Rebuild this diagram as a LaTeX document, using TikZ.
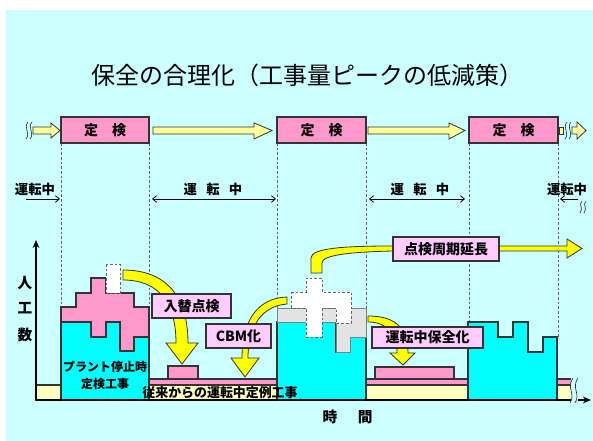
\documentclass[tikz,border=0pt]{standalone}
\usepackage{fontspec}
\setmainfont{Noto Sans CJK JP}
\usetikzlibrary{arrows.meta}
\definecolor{bgc}{HTML}{CCFFFF}
\definecolor{cyanc}{HTML}{00FFFF}
\definecolor{pinkc}{HTML}{FF99CC}
\definecolor{lpink}{HTML}{FFCCFF}
\definecolor{yelc}{HTML}{FFFF00}
\definecolor{paley}{HTML}{FFFF99}
\definecolor{bandy}{HTML}{FFFFBF}
\definecolor{grayc}{HTML}{E3E3E3}
\definecolor{edge}{HTML}{333333}
\begin{document}
\begin{tikzpicture}[x=0.75pt,y=-0.75pt,
  outl/.style={draw=edge, line width=0.8pt},
  kbox/.style={draw=edge, fill=pinkc, line width=0.8pt, inner sep=0pt, font=\bfseries\fontsize{10.5}{12}\selectfont},
  lbox/.style={draw=edge, fill=lpink, line width=0.8pt, inner sep=0pt, font=\bfseries\fontsize{10.5}{12}\selectfont},
  lab/.style={font=\bfseries\fontsize{10}{12}\selectfont, inner sep=0pt},
  guide/.style={draw=black!60, dash pattern=on 2pt off 1.5pt, line width=0.6pt},
  yarrow/.style={fill=yelc, draw=edge, line width=0.6pt},
  parrow/.style={fill=paley, draw=edge, line width=0.6pt},
  wave/.style={draw=edge, line width=0.5pt},
  tarr/.style={line width=0.6pt, -{Straight Barb[length=3pt,width=5pt]}},
  darr/.style={line width=0.6pt, {Straight Barb[length=3pt,width=5pt]}-{Straight Barb[length=3pt,width=5pt]}},
  axarr/.style={line width=0.9pt, -{Stealth[length=6pt,width=5pt]}}]
\useasboundingbox (0,0) rectangle (593,441);
\fill[bgc] (6,10) rectangle (593,441);

% title
\node[font=\fontsize{18}{20}\selectfont, inner sep=0pt] (title) at (307,75) {保全の合理化（工事量ピークの低減策）};

% guide lines
\draw[guide] (61,143) -- (61,307);
\draw[guide] (149,143) -- (149,307);
\draw[guide] (277,143) -- (277,308);
\draw[guide] (366,143) -- (366,308);
\draw[guide] (469,143) -- (469,322);
\draw[guide] (558,143) -- (558,337);

% top row arrows
\draw[wave] (28,122) .. controls (23,128) and (31,133) .. (26,139);
\draw[wave] (32,122) .. controls (27,128) and (35,133) .. (30,139);
\draw[parrow] (33,127) -- (51,127) -- (51,123) -- (60,130.5) -- (51,138) -- (51,134) -- (33,134) -- cycle;
\draw[parrow] (153,127) -- (254,127) -- (254,123) -- (272,130.5) -- (254,139) -- (254,134) -- (153,134) -- cycle;
\draw[parrow] (368,127) -- (449,127) -- (449,123) -- (465,130.5) -- (449,139) -- (449,134) -- (368,134) -- cycle;
\draw[parrow] (559,127) -- (563,127) -- (563,134) -- (559,134) -- cycle;
\draw[wave] (567,122) .. controls (562,128) and (570,133) .. (565,139);
\draw[wave] (571,122) .. controls (566,128) and (574,133) .. (569,139);
\draw[parrow] (572,127) -- (577,127) -- (577,122) -- (586,130.5) -- (577,139) -- (577,134) -- (572,134) -- cycle;

\node[kbox, minimum width=66pt, minimum height=19.5pt] (k1) at (105,130) {定　検};
\node[kbox, minimum width=66.75pt, minimum height=19.5pt] (k2) at (321.5,130) {定　検};
\node[kbox, minimum width=66.75pt, minimum height=19.5pt] (k3) at (513.5,130) {定　検};

% running labels
\node[lab] (u1) at (35,189) {運転中};
\node[lab] (u2) at (213,189) {運\hspace{0.7em}転\hspace{0.7em}中};
\node[lab] (u3) at (420,189) {運\hspace{0.7em}転\hspace{0.7em}中};
\node[lab] (u4) at (567,189) {運転中};
\coordinate (a1s) at (26,199); \coordinate (a1e) at (60,199);
\coordinate (a2s) at (152,199); \coordinate (a2e) at (276,199);
\coordinate (a3s) at (369,199); \coordinate (a3e) at (465,199);
\coordinate (a4s) at (578,199); \coordinate (a4e) at (560,199);
\draw[tarr] (a1s) -- (a1e);
\draw[darr] (a2s) -- (a2e);
\draw[darr] (a3s) -- (a3e);
\draw[tarr] (a4s) -- (a4e);
\draw[wave] (582,201) .. controls (578,205) and (584,208) .. (580,213);
\draw[wave] (586,201) .. controls (582,205) and (588,208) .. (584,213);

% bands
\draw[outl, fill=bandy] (36,385) rectangle (61,400);
\draw[outl, fill=bandy] (149,385) rectangle (277,400);
\draw[outl, fill=pinkc] (149,379) rectangle (277,385);
\draw[outl, fill=bandy] (366,385) rectangle (469,400);
\draw[outl, fill=pinkc] (366,379) rectangle (469,385);
\fill[bandy] (557,385) rectangle (571,400);
\fill[pinkc] (557,379) rectangle (571,385);
\draw[outl] (557,379) -- (571,379) (557,385) -- (571,385);

% block 1
\draw[outl, fill=cyanc] (61,400) -- (61,322) -- (91,322) -- (91,337) -- (106,337) -- (106,322) -- (120,322) -- (120,351) -- (134,351) -- (134,337) -- (149,337) -- (149,400) -- cycle;
\draw[outl, fill=pinkc] (61,322) -- (61,307) -- (76,307) -- (76,293) -- (91,293) -- (91,278) -- (106,278) -- (106,293) -- (134,293) -- (134,307) -- (149,307) -- (149,337) -- (134,337) -- (134,351) -- (120,351) -- (120,322) -- (106,322) -- (106,337) -- (91,337) -- (91,322) -- cycle;
\draw[fill=white, draw=black!60, dash pattern=on 2pt off 1.5pt, line width=0.6pt] (106,264) rectangle (120,293);

% block 2
\draw[outl, fill=cyanc] (277,400) -- (277,322) -- (336,322) -- (336,352) -- (350,352) -- (350,337) -- (366,337) -- (366,400) -- cycle;
\draw[draw=black!50, line width=0.6pt, fill=grayc] (277,322) -- (277,308) -- (366,308) -- (366,337) -- (350,337) -- (350,352) -- (336,352) -- (336,322) -- cycle;
\draw[fill=white, draw=black!60, dash pattern=on 2pt off 1.5pt, line width=0.6pt] (291,292) -- (306,292) -- (306,278) -- (322,278) -- (322,292) -- (351,292) -- (351,323) -- (336,323) -- (336,308) -- (322,308) -- (322,337) -- (306,337) -- (306,308) -- (291,308) -- cycle;

% block 3
\draw[outl, fill=cyanc] (468,400) -- (468,322) -- (498,322) -- (498,337) -- (513,337) -- (513,322) -- (528,322) -- (528,352) -- (543,352) -- (543,337) -- (557,337) -- (557,400) -- cycle;

% small pink blocks
\draw[outl, fill=pinkc] (168,366) rectangle (198,379);
\draw[outl, fill=pinkc] (375,367) rectangle (454,379);

% yellow arrows
\draw[yarrow] (123,270) .. controls (165,270) and (188,295) .. (188,343) -- (198,343) -- (182,364) -- (166,343) -- (176,343) .. controls (176,302) and (158,280) .. (123,280) -- cycle;
\draw[yarrow] (287,297) .. controls (258,298) and (242,320) .. (242,358) -- (231,358) -- (245,377) -- (259,358) -- (248,358) .. controls (248,326) and (262,306) .. (287,304) -- cycle;
\draw[yarrow] (311,273) -- (311,258) .. controls (311,248) and (345,246) .. (393,246) -- (567,246) -- (567,239) -- (582,248.5) -- (567,258) -- (567,251) -- (393,251) .. controls (350,252) and (322,255) .. (322,263) -- (322,273) -- cycle;
\draw[yarrow] (368,316) .. controls (392,316) and (408,325) .. (408,353) -- (415,353) -- (403,365) -- (390,353) -- (397,353) .. controls (397,332) and (385,322) .. (368,322) -- cycle;

% label boxes
\node[lbox, minimum width=59.25pt, minimum height=18pt] (n1) at (191.5,306) {入替点検};
\node[lbox, minimum width=48.75pt, minimum height=18pt] (n2) at (238.5,336) {CBM化};
\node[lbox, minimum width=79.5pt, minimum height=18pt] (n3) at (446,249) {点検周期延長};
\node[lbox, minimum width=83.25pt, minimum height=15.75pt] (n4) at (427.5,337.5) {運転中保全化};

% block texts
\node[font=\bfseries\fontsize{9}{10}\selectfont, inner sep=0pt] (t1) at (105,367) {プラント停止時};
\node[font=\bfseries\fontsize{9}{10}\selectfont, inner sep=0pt] (t2) at (105,384) {定検工事};
\node[font=\bfseries\fontsize{9.7}{11}\selectfont, inner sep=0pt] (t3) at (220,393) {従来からの運転中定例工事};

% axes
\coordinate (o) at (36,400);
\coordinate (ytop) at (36,240);
\coordinate (xbrk) at (571,400);
\coordinate (xres) at (578,400);
\coordinate (xend) at (591,400);
\draw[axarr] (o) -- (ytop);
\draw[line width=0.9pt] (o) -- (xbrk);
\draw[axarr] (xres) -- (xend);
\draw[wave] (573,378) .. controls (566,388) and (576,394) .. (570,403);
\draw[wave] (578,378) .. controls (571,388) and (581,394) .. (575,403);

\node[font=\bfseries\fontsize{11}{12}\selectfont, inner sep=0pt] (y1) at (25,283) {人};
\node[font=\bfseries\fontsize{11}{12}\selectfont, inner sep=0pt] (y2) at (25,308) {工};
\node[font=\bfseries\fontsize{11}{12}\selectfont, inner sep=0pt] (y3) at (25,335) {数};
\node[font=\bfseries\fontsize{11}{12}\selectfont, inner sep=0pt] (xl) at (347.5,417) {時\hspace{1.4em}間};
\end{tikzpicture}
\end{document}
